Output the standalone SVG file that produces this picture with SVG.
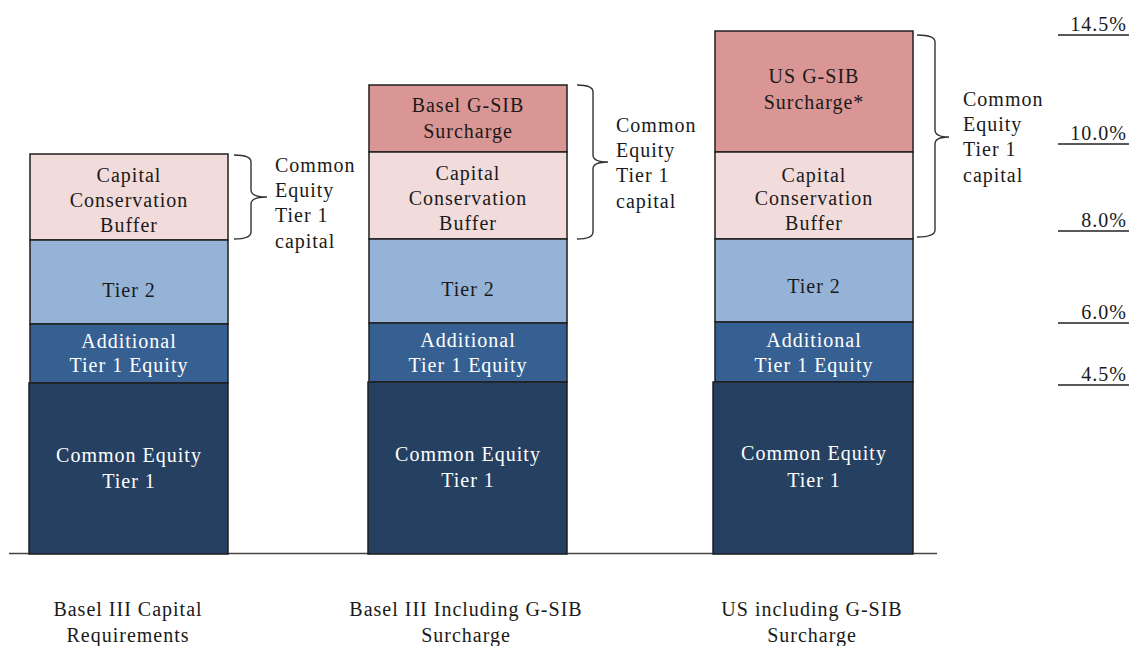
<svg xmlns="http://www.w3.org/2000/svg" width="1129" height="646" viewBox="0 0 1129 646">
<style>
text{font-family:"Liberation Serif","Times New Roman",serif;font-size:20px;letter-spacing:1px;text-anchor:middle;fill:#1a1a1a}
.w{fill:#ffffff}
.l{text-anchor:start}
.r{text-anchor:end}
.seg{stroke:#1f1f1f;stroke-width:1.5}
.ccb{fill:#f2dcdb}
.t2{fill:#95b3d7}
.at1{fill:#366092}
.cet{fill:#254061}
.gsib{fill:#da9694}
.br{fill:none;stroke:#333;stroke-width:1.4}
.ln{stroke:#222;stroke-width:1.3}
</style>
<rect width="1129" height="646" fill="#ffffff"/>
<line x1="9" y1="553.5" x2="937" y2="553.5" stroke="#444" stroke-width="1.6"/>
<g id="bar1">
<g id="b1-ccb"><rect class="seg ccb" x="30" y="154" width="198" height="86"/><text x="129" y="182">Capital</text><text x="129" y="207">Conservation</text><text x="129" y="232">Buffer</text></g>
<g id="b1-t2"><rect class="seg t2" x="30" y="240" width="198" height="84"/><text x="129" y="297">Tier 2</text></g>
<g id="b1-at1"><rect class="seg at1" x="30" y="324" width="198" height="59"/><text class="w" x="129" y="348">Additional</text><text class="w" x="129" y="372">Tier 1 Equity</text></g>
<g id="b1-cet1"><rect class="seg cet" x="29" y="383" width="199" height="171"/><text class="w" x="129" y="462">Common Equity</text><text class="w" x="129" y="488">Tier 1</text></g>
<g id="b1-label"><text x="128" y="616">Basel III Capital</text><text x="128" y="642">Requirements</text></g>
</g>
<g id="bar2">
<g id="b2-gsib"><rect class="seg gsib" x="369" y="85" width="198" height="67"/><text x="468" y="112">Basel G-SIB</text><text x="468" y="138">Surcharge</text></g>
<g id="b2-ccb"><rect class="seg ccb" x="369" y="152" width="198" height="87"/><text x="468" y="180">Capital</text><text x="468" y="205">Conservation</text><text x="468" y="230">Buffer</text></g>
<g id="b2-t2"><rect class="seg t2" x="369" y="239" width="198" height="84"/><text x="468" y="296">Tier 2</text></g>
<g id="b2-at1"><rect class="seg at1" x="369" y="323" width="198" height="59"/><text class="w" x="468" y="347">Additional</text><text class="w" x="468" y="372">Tier 1 Equity</text></g>
<g id="b2-cet1"><rect class="seg cet" x="368" y="382" width="199" height="172"/><text class="w" x="468" y="461">Common Equity</text><text class="w" x="468" y="487">Tier 1</text></g>
<g id="b2-label"><text x="466" y="616">Basel III Including G-SIB</text><text x="466" y="642">Surcharge</text></g>
</g>
<g id="bar3">
<g id="b3-gsib"><rect class="seg gsib" x="715" y="31" width="198" height="121"/><text x="814" y="83">US G-SIB</text><text x="814" y="109">Surcharge*</text></g>
<g id="b3-ccb"><rect class="seg ccb" x="715" y="152" width="198" height="87"/><text x="814" y="182">Capital</text><text x="814" y="205">Conservation</text><text x="814" y="230">Buffer</text></g>
<g id="b3-t2"><rect class="seg t2" x="715" y="239" width="198" height="83"/><text x="814" y="293">Tier 2</text></g>
<g id="b3-at1"><rect class="seg at1" x="715" y="322" width="198" height="60"/><text class="w" x="814" y="347">Additional</text><text class="w" x="814" y="372">Tier 1 Equity</text></g>
<g id="b3-cet1"><rect class="seg cet" x="713" y="382" width="200" height="172"/><text class="w" x="814" y="460">Common Equity</text><text class="w" x="814" y="487">Tier 1</text></g>
<g id="b3-label"><text x="812" y="616">US including G-SIB</text><text x="812" y="642">Surcharge</text></g>
</g>
<g id="connectors">
<path class="br" d="M234,155 Q251,155 251,162 V190 Q251,197 267,197 M267,197 Q251,197 251,204 V232 Q251,239 234,239"/>
<path class="br" d="M577,85 Q593,85 593,92 V155 Q593,162 608,162 M608,162 Q593,162 593,169 V232 Q593,239 577,239"/>
<path class="br" d="M917,35 Q935,35 935,42 V130 Q935,137 949,137 M949,137 Q935,137 935,144 V230 Q935,237 917,237"/>
</g>
<g id="cet1-note1"><text class="l" x="275" y="172">Common</text><text class="l" x="275" y="197">Equity</text><text class="l" x="275" y="222">Tier 1</text><text class="l" x="275" y="248">capital</text></g>
<g id="cet1-note2"><text class="l" x="616" y="132">Common</text><text class="l" x="616" y="157">Equity</text><text class="l" x="616" y="182">Tier 1</text><text class="l" x="616" y="208">capital</text></g>
<g id="cet1-note3"><text class="l" x="963" y="106">Common</text><text class="l" x="963" y="131">Equity</text><text class="l" x="963" y="156">Tier 1</text><text class="l" x="963" y="182">capital</text></g>
<g id="scale">
<line class="ln" x1="1058" y1="35" x2="1129" y2="35"/><text class="r" x="1127" y="31">14.5%</text>
<line class="ln" x1="1058" y1="144" x2="1129" y2="144"/><text class="r" x="1127" y="140">10.0%</text>
<line class="ln" x1="1058" y1="231" x2="1129" y2="231"/><text class="r" x="1127" y="227">8.0%</text>
<line class="ln" x1="1058" y1="323" x2="1129" y2="323"/><text class="r" x="1127" y="319">6.0%</text>
<line class="ln" x1="1058" y1="385" x2="1129" y2="385"/><text class="r" x="1127" y="381">4.5%</text>
</g>
</svg>
